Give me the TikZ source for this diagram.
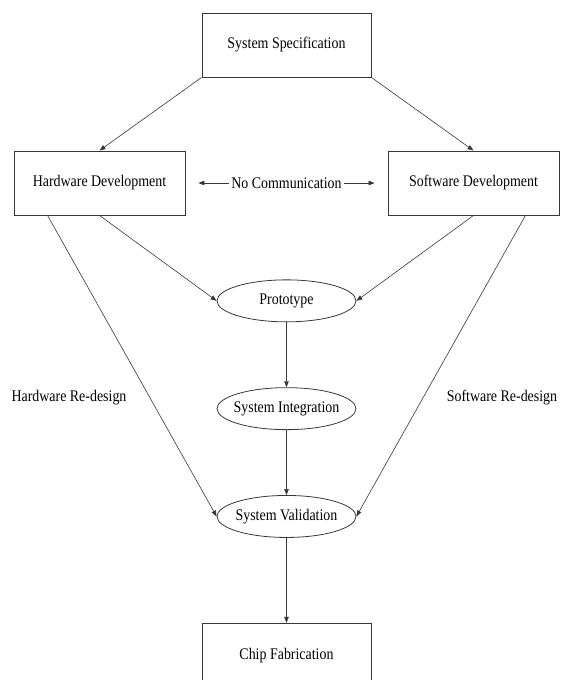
\documentclass[tikz,border=0pt]{standalone}
\usepackage{fontspec}
\setmainfont{Liberation Serif}[FakeStretch=0.86]
\usepackage{xcolor}
\usetikzlibrary{shapes,arrows,arrows.meta,positioning,calc}
\definecolor{linegray}{RGB}{55,55,55}
\tikzset{
    procbox/.style={
        rectangle,
        draw=linegray,
        line width=0.9pt,
        minimum width=169pt,
        minimum height=64pt,
        text centered,
        font=\fontsize{16.2}{18}\selectfont
    },
    stage/.style={
        ellipse,
        draw=linegray,
        line width=0.8pt,
        minimum width=139pt,
        minimum height=42pt,
        inner sep=0pt,
        inner xsep=-14pt,
        font=\fontsize{16.2}{18}\selectfont
    },
    note/.style={
        inner sep=2pt,
        font=\fontsize{16.2}{18}\selectfont
    },
    flow/.style={
        ->,
        >={Triangle[length=6pt,width=4.5pt]},
        draw=linegray,
        line width=0.6pt
    }
}

\begin{document}
\begin{tikzpicture}[x=1pt,y=-1pt,node distance=65pt]
\useasboundingbox (0,0) rectangle (561,680);
\clip (0,0) rectangle (561,680);

% top of the flow
\node[procbox] (spec) at (286.5,45) {System Specification};
\node[procbox, minimum width=171pt] (hw) at (99.5,183) {Hardware Development};
\node[procbox, minimum width=171pt] (sw) at (473.5,183) {Software Development};
\node[note] (nocomm) at ($(hw)!0.5!(sw)$) {No Communication};

% middle stages
\node[stage, below=202pt of spec] (proto) {Prototype};
\node[stage, below=of proto] (integ) {System Integration};
\node[stage, below=of integ] (valid) {System Validation};

% Chip Fabrication
\node[procbox, below=85pt of valid] (chip) {Chip Fabrication};

% re-design labels
\node[note] (hwredesign) at (69,398) {Hardware Re-design};
\node[note] (swredesign) at (502,398) {Software Re-design};

\draw[flow] (spec.south west) -- (hw.north);
\draw[flow] (spec.south east) -- (sw.north);
\draw[flow, shorten >=13pt] (nocomm.west) -- (hw.east);
\draw[flow, shorten >=13pt] (nocomm.east) -- (sw.west);
\draw[flow] (hw.south) -- (proto.west);
\draw[flow] (sw.south) -- (proto.east);
\draw[flow] ([xshift=34pt]hw.south west) -- (valid.west);
\draw[flow] ([xshift=-34pt]sw.south east) -- (valid.east);
\draw[flow] (proto.south) -- (integ.north);
\draw[flow] (integ.south) -- (valid.north);
\draw[flow] (valid.south) -- (chip.north);
\end{tikzpicture}
\end{document}
